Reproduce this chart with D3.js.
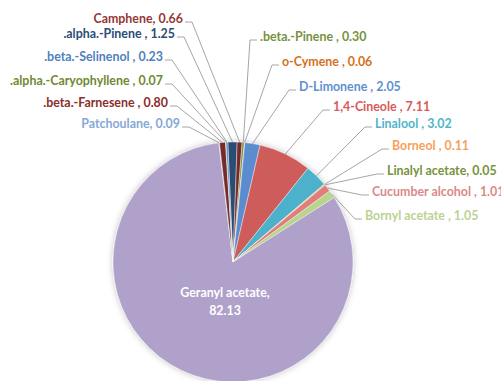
<!DOCTYPE html>
<html>
<head>
<meta charset="utf-8">
<script src="https://cdn.jsdelivr.net/npm/d3@7"></script>
<style>
  body { margin: 0; background: #fff; }
  svg { display: block; }
  text { font-family: Lato, "Open Sans", sans-serif; font-weight: bold; font-size: 12.4px; }
</style>
</head>
<body>
<div id="chart"></div>
<script>
// Compounds, in clockwise order starting at 12 o'clock
var names = ['.alpha.-Pinene ', 'Camphene', '.beta.-Pinene ', 'o-Cymene ', 'D-Limonene ', '1,4-Cineole ',
    'Linalool ', 'Borneol ', 'Linalyl acetate', 'Cucumber alcohol ', 'Bornyl acetate ', 'Geranyl acetate',
    'Patchoulane', '.beta.-Farnesene ', '.alpha.-Caryophyllene ', '.beta.-Selinenol '];
var values = [1.25, 0.66, 0.30, 0.06, 2.05, 7.11, 3.02, 0.11, 0.05, 1.01, 1.05, 82.13, 0.09, 0.80, 0.07, 0.23];

// slice fill and label text colours
var sliceColors = ['#2C4D75', '#772C2A', '#76923C', '#C76A18', '#5B8CD0', '#CD5C5A', '#4DB1CC', '#F79646',
    '#77933C', '#E07E7B', '#B9D48C', '#AFA1CA', '#8EB4E3', '#772C2A', '#76923C', '#4F81BD'];
var textColors = ['#2C4D75', '#953735', '#76923C', '#D5711C', '#5F8FD0', '#D75A5A', '#4FB4CC', '#F5A15C',
    '#77933C', '#DA8A88', '#BBD293', '#ffffff', '#86A8D8', '#8B2E2C', '#6F8A32', '#4F81BD'];

// label anchors [x, baseline y, side]  (side -1: text ends at x, +1: text starts at x, 0: inside)
var labelPos = [[175, 38, -1], [183, 23, -1], [260, 41, 1], [282, 66, 1], [299, 91, 1], [333, 111, 1],
    [375, 128, 1], [392, 150, 1], [387, 175, 1], [372, 196, 1], [365, 220, 1], [225, 297, 0],
    [180, 128, -1], [168, 107, -1], [163, 85, -1], [163, 61, -1]];

var width = 501, height = 381;
var cx = 233, cy = 262, radius = 120;

var svg = d3.select('#chart')
    .append('svg')
    .attr('width', width)
    .attr('height', height);

// soft shadow round the pie
var filter = svg.append('defs').append('filter')
    .attr('id', 'shadow')
    .attr('x', '-20%').attr('y', '-20%')
    .attr('width', '140%').attr('height', '140%');
filter.append('feDropShadow')
    .attr('dx', 0).attr('dy', 0)
    .attr('stdDeviation', 3)
    .attr('flood-color', '#000')
    .attr('flood-opacity', 0.25);

var data = names.map(function(n, i) { return { name: n, value: values[i], i: i }; });

var start = -2.5 * Math.PI / 180;
var pie = d3.pie()
    .sort(null)
    .startAngle(start)
    .endAngle(2 * Math.PI + start)
    .value(function(d) { return d.value; });

var arcs = pie(data);

var arc = d3.arc().innerRadius(0).outerRadius(radius);
var edge = d3.arc().innerRadius(radius).outerRadius(radius);

var g = svg.append('g')
    .attr('transform', 'translate(' + cx + ',' + cy + ')');

g.append('g')
    .attr('filter', 'url(#shadow)')
    .selectAll('path')
    .data(arcs)
    .enter()
    .append('path')
    .attr('d', arc)
    .attr('fill', function(d) { return sliceColors[d.data.i]; })
    .attr('stroke', '#fff')
    .attr('stroke-width', 0.4);

// leader lines
arcs.forEach(function(d) {
    var p = labelPos[d.data.i];
    if (p[2] === 0) return;
    var e = edge.centroid(d);
    var sx, tx;
    if (p[2] < 0) { sx = p[0] + 2; tx = p[0] + 9; }
    else { sx = p[0] - 3; tx = p[0] - 10; }
    var y = p[1] - 1;
    svg.append('polyline')
        .attr('points', [[sx, y], [tx, y], [cx + e[0], cy + e[1]]].map(function(q) { return q.join(','); }).join(' '))
        .attr('fill', 'none')
        .attr('stroke', '#A6A6A6')
        .attr('stroke-width', 1);
});

// labels
arcs.forEach(function(d) {
    var p = labelPos[d.data.i];
    var label = d.data.name + ', ' + d3.format('.2f')(d.data.value);
    if (p[2] === 0) {
        var t = svg.append('text')
            .attr('x', p[0]).attr('y', p[1])
            .attr('text-anchor', 'middle')
            .attr('fill', textColors[d.data.i]);
        t.append('tspan').attr('x', p[0]).text(d.data.name + ',');
        t.append('tspan').attr('x', p[0]).attr('dy', 18).text(d3.format('.2f')(d.data.value));
        return;
    }
    svg.append('text')
        .attr('x', p[0]).attr('y', p[1])
        .attr('text-anchor', p[2] < 0 ? 'end' : 'start')
        .attr('fill', textColors[d.data.i])
        .text(label);
});
</script>
</body>
</html>
